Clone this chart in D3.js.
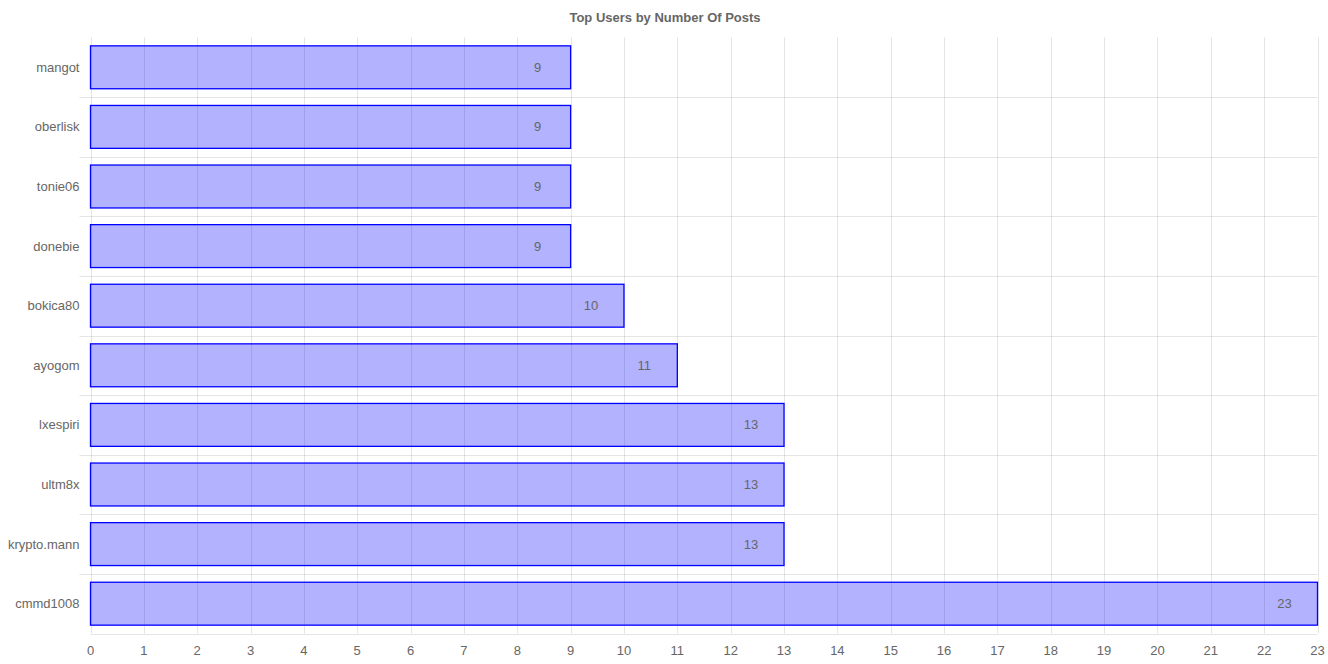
<!DOCTYPE html>
<html><head><meta charset="utf-8">
<script src="https://cdn.jsdelivr.net/npm/d3@7"></script>
<style>body{margin:0;background:#fff}text{font-family:"Liberation Sans",Arial,Helvetica,sans-serif}</style>
</head><body><svg id="c" width="1328" height="664"></svg>
<script>
const users = ["mangot","oberlisk","tonie06","donebie","bokica80","ayogom","lxespiri","ultm8x","krypto.mann","cmmd1008"];
const posts = [9,9,9,9,10,11,13,13,13,23];
const xTicks = d3.range(0,24);

const svg = d3.select("#c");
const m = {l:90.5, r:10.5, t:37.5, b:30.5};
const W = 1328, H = 664;
const x = d3.scaleLinear().domain([0,23]).range([m.l, W - m.r]);
const y = d3.scaleBand().domain(users).range([m.t, H - m.b]);
const grid = "rgba(0,0,0,0.1)";
const fs = 13;

// title
svg.append("text").attr("x", 665).attr("y", 22).attr("text-anchor","middle")
  .attr("font-size",fs).attr("font-weight","bold").attr("fill","#666").text("Top Users by Number Of Posts");

// vertical gridlines
svg.append("g").selectAll("line").data(xTicks).join("line")
  .attr("x1", d=>Math.round(x(d))+0.5).attr("x2", d=>Math.round(x(d))+0.5)
  .attr("y1", m.t).attr("y2", H - m.b).attr("stroke", grid);
// horizontal gridlines (band boundaries)
const bounds = users.map(u=>y(u)).concat([y.range()[1]]);
svg.append("g").selectAll("line").data(bounds.slice(1)).join("line")
  .attr("x1", (d,i)=> i === users.length-1 ? m.l : m.l - 11).attr("x2", W - m.r)
  .attr("y1", d=>Math.round(d)+0.5).attr("y2", d=>Math.round(d)+0.5)
  .attr("stroke", grid);

// bars
const bh = y.bandwidth()*0.72;
svg.append("g").selectAll("rect").data(users).join("rect")
  .attr("x", x(0)).attr("y", (d)=>y(d) + (y.bandwidth()-bh)/2)
  .attr("width", (d,i)=>x(posts[i]) - x(0)).attr("height", bh)
  .attr("fill","rgba(0,0,255,0.3)").attr("stroke","#0000ff").attr("stroke-width",1.3);

// value labels
svg.append("g").selectAll("text").data(users).join("text")
  .attr("x", (d,i)=>x(posts[i]) - 33).attr("y", d=>y(d)+y.bandwidth()/2 + 4.5)
  .attr("text-anchor","middle").attr("font-size",fs).attr("fill","#666")
  .text((d,i)=>posts[i]);

// y labels
svg.append("g").selectAll("text").data(users).join("text")
  .attr("x", m.l - 11).attr("y", d=>y(d)+y.bandwidth()/2 + 4.5)
  .attr("text-anchor","end").attr("font-size",fs).attr("fill","#666").text(d=>d);

// x labels
svg.append("g").selectAll("text").data(xTicks).join("text")
  .attr("x", d=>x(d)).attr("y", H - m.b + 21)
  .attr("text-anchor","middle").attr("font-size",fs).attr("fill","#666").text(d=>d);
</script></body></html>
